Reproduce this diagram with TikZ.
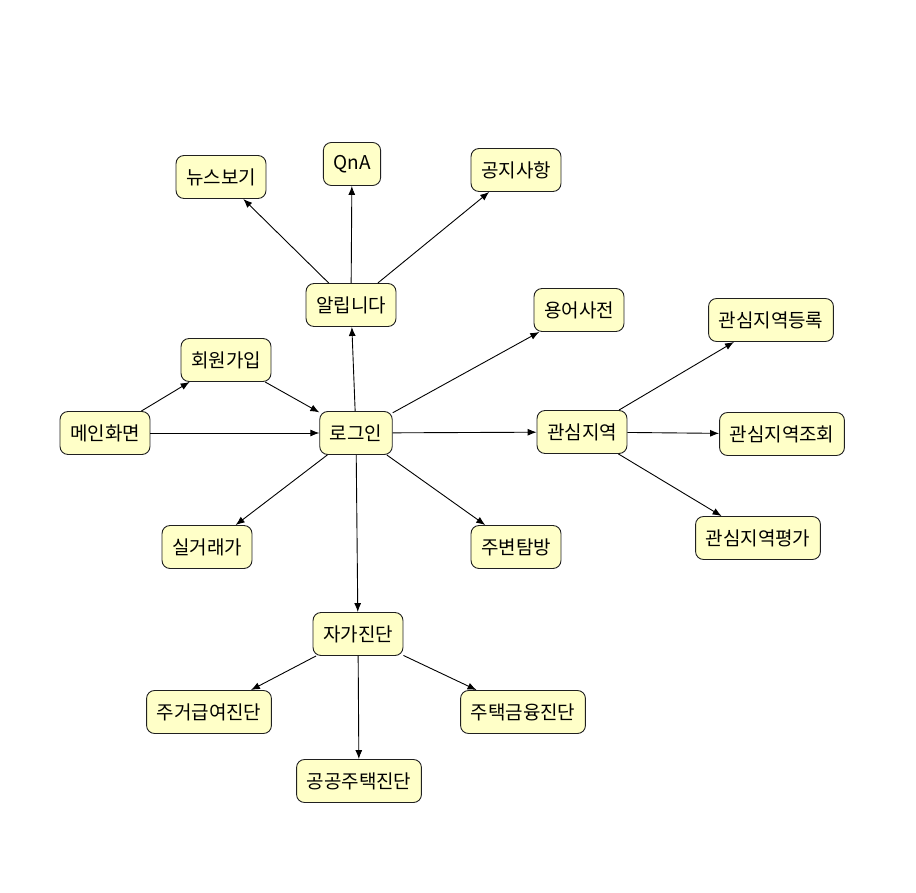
\documentclass[tikz,border=0pt]{standalone}
\usepackage{fontspec}
\setmainfont{Noto Sans CJK KR}
\usetikzlibrary{arrows.meta}
\definecolor{boxfill}{HTML}{FFFFC8}
\definecolor{boxline}{HTML}{202020}
\tikzset{
  boxnode/.style={draw=boxline, fill=boxfill, rounded corners=8pt, line width=0.9pt,
    minimum height=43pt, inner xsep=10pt, inner ysep=0pt, font=\fontsize{19pt}{21pt}\selectfont},
  link/.style={draw=black, line width=0.9pt, -{Latex[length=9pt,width=7pt]}}
}
\begin{document}
\begin{tikzpicture}[x=1pt,y=-1pt]
\useasboundingbox[fill=white] (0,0) rectangle (916,893);
\node[boxnode] (news) at (221,177) {뉴스보기};
\node[boxnode] (qna) at (352,164) {QnA};
\node[boxnode] (notice) at (516,170) {공지사항};
\node[boxnode] (alarm) at (351,305) {알립니다};
\node[boxnode] (dict) at (579,310) {용어사전};
\node[boxnode] (regreg) at (771,320) {관심지역등록};
\node[boxnode] (join) at (226,360) {회원가입};
\node[boxnode] (main) at (105,433) {메인화면};
\node[boxnode] (login) at (356,433) {로그인};
\node[boxnode] (region) at (582,432) {관심지역};
\node[boxnode] (regview) at (782,434) {관심지역조회};
\node[boxnode] (price) at (207,547) {실거래가};
\node[boxnode] (around) at (516,547) {주변탐방};
\node[boxnode] (regeval) at (758,538) {관심지역평가};
\node[boxnode] (self) at (358,634) {자가진단};
\node[boxnode] (housing) at (209,712) {주거급여진단};
\node[boxnode] (finance) at (523,712) {주택금융진단};
\node[boxnode] (public) at (359,781) {공공주택진단};

\draw[link] (main) -- (join);
\draw[link] (join) -- (login);
\draw[link] (main) -- (login);
\draw[link] (login) -- (alarm);
\draw[link] (alarm) -- (news);
\draw[link] (alarm) -- (qna);
\draw[link] (alarm) -- (notice);
\draw[link] (login) -- (dict);
\draw[link] (login) -- (region);
\draw[link] (region) -- (regreg);
\draw[link] (region) -- (regview);
\draw[link] (region) -- (regeval);
\draw[link] (login) -- (price);
\draw[link] (login) -- (around);
\draw[link] (login) -- (self);
\draw[link] (self) -- (housing);
\draw[link] (self) -- (public);
\draw[link] (self) -- (finance);
\end{tikzpicture}
\end{document}
